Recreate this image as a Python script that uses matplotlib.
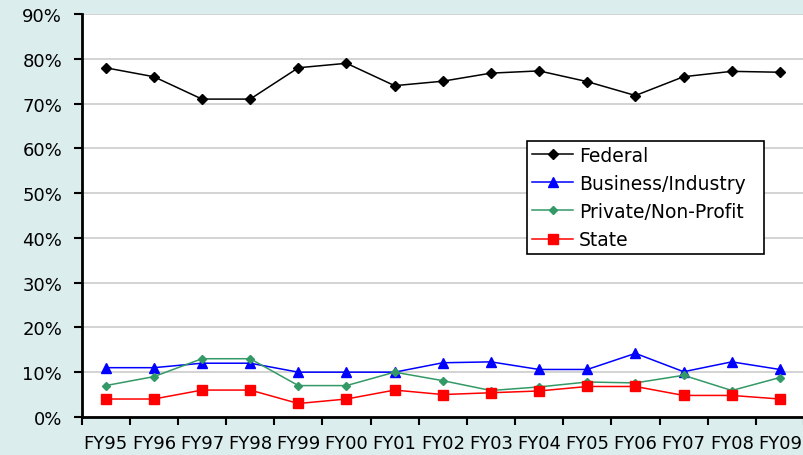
import matplotlib
matplotlib.use("Agg")
import matplotlib.pyplot as plt
from matplotlib.ticker import FixedLocator, NullFormatter

years = ["FY95", "FY96", "FY97", "FY98", "FY99", "FY00", "FY01", "FY02",
         "FY03", "FY04", "FY05", "FY06", "FY07", "FY08", "FY09"]
federal = [78, 76, 71, 71, 78, 79, 74, 75, 76.8, 77.3, 74.9, 71.8, 76.0, 77.2, 77.0]
business = [11, 11, 12, 12, 10, 10, 10, 12.1, 12.3, 10.6, 10.6, 14.2, 10.1, 12.3, 10.6]
private = [7, 9, 13, 13, 7, 7, 10, 8.1, 5.9, 6.7, 7.8, 7.6, 9.3, 5.9, 8.8]
state = [4, 4, 6, 6, 3, 4, 6, 5.0, 5.4, 5.8, 6.8, 6.8, 4.8, 4.8, 4.0]
yticks = [0, 10, 20, 30, 40, 50, 60, 70, 80, 90]

bg = "#dbeded"
fig = plt.figure(figsize=(8.04, 4.56), dpi=100, facecolor=bg)
ax = fig.add_axes([0.1015, 0.0835, 0.8985, 0.8835])
ax.set_facecolor("white")

x = list(range(len(years)))
ax.plot(x, federal, color="black", marker="D", markersize=5, linewidth=1.1, label="Federal")
ax.plot(x, business, color="#0000ff", marker="^", markersize=7, linewidth=1.1, label="Business/Industry")
ax.plot(x, private, color="#339966", marker="D", markersize=4.5, linewidth=1.1, label="Private/Non-Profit")
ax.plot(x, state, color="#ff0000", marker="s", markersize=6.5, linewidth=1.1, label="State")

ax.set_xlim(-0.5, len(years) - 0.5)
ax.set_ylim(0, 90)
ax.set_yticks(yticks)
ax.set_yticklabels([f"{v}%" for v in yticks], fontsize=13)
ax.set_xticks(x)
ax.set_xticklabels(years, fontsize=13)
ax.tick_params(axis="x", which="major", length=0, pad=12)
ax.xaxis.set_minor_locator(FixedLocator([i - 0.5 for i in range(len(years) + 1)]))
ax.xaxis.set_minor_formatter(NullFormatter())
ax.tick_params(axis="x", which="minor", length=6, width=1.5, direction="out")
ax.tick_params(axis="y", length=6, width=1.5, direction="out", pad=8)
ax.grid(axis="y", color="#cccccc", linewidth=1.2)
ax.set_axisbelow(True)
for s in ["top", "right"]:
    ax.spines[s].set_visible(False)
for s in ["left", "bottom"]:
    ax.spines[s].set_linewidth(2)
    ax.spines[s].set_color("black")

leg = ax.legend(loc="upper left", bbox_to_anchor=(0.617, 0.4, 0.327, 0.285),
                mode="expand", fontsize=13.5,
                frameon=True, fancybox=False, edgecolor="black", framealpha=1,
                handlelength=2.2, borderpad=0.25, labelspacing=0.49, handletextpad=0.3,
                borderaxespad=0)
leg.get_frame().set_linewidth(1.2)

fig.savefig("out.png", dpi=100, facecolor=bg)
